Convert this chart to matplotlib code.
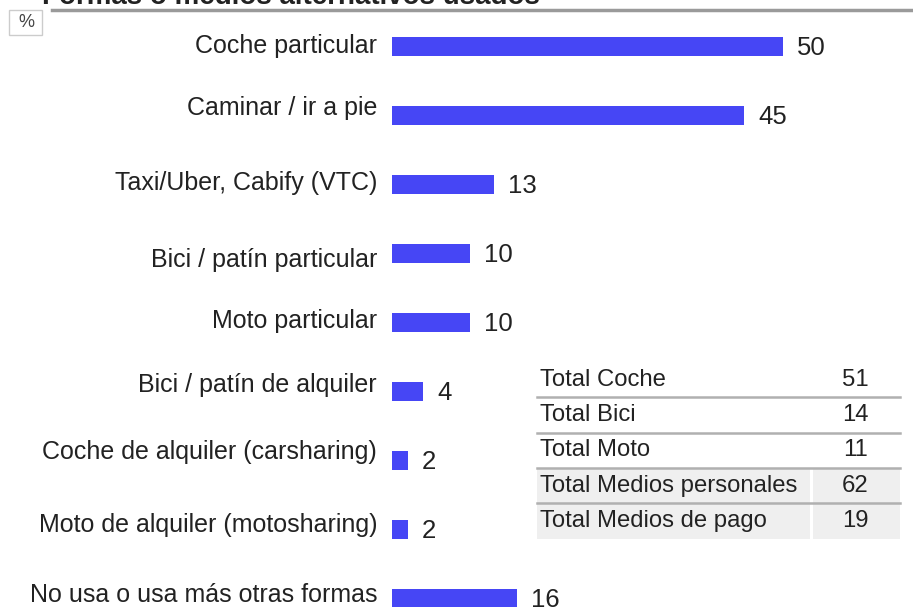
from matplotlib import pyplot as plt
from matplotlib.lines import Line2D
from matplotlib.patches import Rectangle

plt.rcParams['font.family'] = ['Liberation Sans', 'DejaVu Sans']

categories = [
    "Coche particular",
    "Caminar / ir a pie",
    "Taxi/Uber, Cabify (VTC)",
    "Bici / patín particular",
    "Moto particular",
    "Bici / patín de alquiler",
    "Coche de alquiler (carsharing)",
    "Moto de alquiler (motosharing)",
    "No usa o usa más otras formas",
]
values = [50, 45, 13, 10, 10, 4, 2, 2, 16]

total_labels = ["Total Coche", "Total Bici", "Total Moto",
                "Total Medios personales", "Total Medios de pago"]
total_values = [51, 14, 11, 62, 19]

title = "Formas o medios alternativos usados"

W, H = 913, 607
BLUE = "#4646F5"
TEXT = "#222222"
label_dy = [0, 7, 1, -7, 1, 6, 8, 4, 3]  # small vertical shifts of the labels, pixels


def fx(px):
    return px / W


def fy(py):
    return 1 - py / H


fig = plt.figure(figsize=(W / 100, H / 100), dpi=100)

# bar axes: starts at the bar origin, spans the full height
ax = fig.add_axes([fx(392), 0, 1 - fx(392), 1])
ax.set_xlim(0, (W - 392) / 7.82)
ax.set_ylim(-0.667 + H / 69, -0.667)
ax.axis("off")

ypos = list(range(len(values)))
ax.barh(ypos, values, height=0.275, color=BLUE)

for i, (cat, v) in enumerate(zip(categories, values)):
    ax.annotate(cat, xy=(0, i), xytext=(-15, label_dy[i]), textcoords="offset pixels",
                ha="right", va="center", fontsize=18, color=TEXT)
    ax.annotate(str(v), xy=(v, i), xytext=(14, -2), textcoords="offset pixels",
                ha="left", va="center", fontsize=18.5, color=TEXT)

# title, cut by the top edge as in the source
fig.text(fx(42), fy(4), title, ha="left", va="baseline", fontsize=20,
         fontweight="bold", color=TEXT)
fig.add_artist(Line2D([fx(52), 1], [fy(10), fy(10)], color="#9a9a9a", lw=2.5))
fig.add_artist(Rectangle((fx(9), fy(35)), fx(42) - fx(9), 25 / H,
                         fc="white", ec="#cccccc", lw=1))
fig.text(fx(26), fy(22.5), "%", ha="center", va="center", fontsize=13, color="#444444")

# totals table
top, row_h = 362, 35.3
x0, xdiv, x1 = 537, 811, 900
for r, (lab, val) in enumerate(zip(total_labels, total_values)):
    ytop = top + r * row_h
    yc = ytop + row_h / 2
    if r >= 3:
        fig.add_artist(Rectangle((fx(x0), fy(ytop + row_h)), fx(xdiv - 1) - fx(x0),
                                 row_h / H, color="#efefef", lw=0))
        fig.add_artist(Rectangle((fx(xdiv + 2), fy(ytop + row_h)), fx(x1) - fx(xdiv + 2),
                                 row_h / H, color="#efefef", lw=0))
    if r > 0:
        fig.add_artist(Line2D([fx(x0), fx(x1)], [fy(ytop), fy(ytop)],
                              color="#b0b0b0", lw=1.8))
    fig.text(fx(x0 + 3), fy(yc), lab, ha="left", va="center", fontsize=17.2, color=TEXT)
    fig.text(fx(855), fy(yc), str(val), ha="center", va="center", fontsize=17.2, color=TEXT)

fig.savefig("out.png", dpi=100)
